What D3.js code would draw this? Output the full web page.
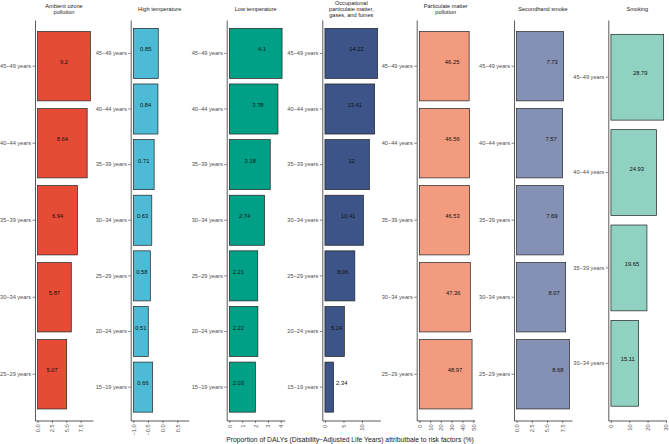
<!DOCTYPE html>
<html>
<head>
<meta charset="utf-8">
<script src="https://cdn.jsdelivr.net/npm/d3@7"></script>
<style>
  html, body { margin: 0; padding: 0; background: #fff; }
  svg { display: block; font-family: "Liberation Sans", Arial, sans-serif; }
</style>
</head>
<body>
<svg id="chart" width="669" height="444"></svg>
<script>
  // age groups, youngest first
  var ages = ['15\u221219 years', '20\u221224 years', '25\u221229 years', '30\u221234 years',
    '35\u221239 years', '40\u221244 years', '45\u221249 years'];

  var ozoneAges = ages.slice(2);
  var ozoneValues = [5.07, 5.87, 6.94, 8.64, 9.2];
  var ozoneTicks = [0, 2.5, 5, 7.5];

  var highAges = ages;
  var highValues = [0.66, 0.51, 0.58, 0.63, 0.71, 0.84, 0.85];
  var highTicks = [-1, -0.5, 0, 0.5];
  var highLimits = [-1, 0.8];
  var highBase = -1;

  var lowAges = ages;
  var lowValues = [2.03, 2.22, 2.21, 2.74, 3.18, 3.78, 4.1];
  var lowTicks = [0, 1, 2, 3, 4];

  var occAges = ages;
  var occValues = [2.34, 5.24, 8.06, 10.41, 12, 13.41, 14.22];
  var occTicks = [0, 5, 10];

  var pmAges = ages.slice(2);
  var pmValues = [48.97, 47.36, 46.53, 46.56, 46.25];
  var pmTicks = [0, 10, 20, 30, 40, 50];

  var shsAges = ages.slice(2);
  var shsValues = [8.68, 8.07, 7.69, 7.57, 7.73];
  var shsTicks = [0, 2.5, 5, 7.5];

  var smokeAges = ages.slice(3);
  var smokeValues = [15.11, 19.65, 24.93, 28.79];
  var smokeTicks = [0, 10, 20, 30];

  var xTitle = 'Proportion of DALYs (Disability\u2212Adjusted Life Years) attributbale to risk factors (%)';

  // label placement rules (pixel based)
  function atCenter(x0, x1) { return { x: (x0 + x1) / 2, anchor: 'middle' }; }
  function fromEnd(px) {
    return function (x0, x1) { return { x: Math.max(x1 - px, x0 + 9), anchor: 'middle' }; };
  }
  function atFrac(f) {
    return function (x0, x1) {
      if (x1 - x0 < 12) return { x: x1 + 2.5, anchor: 'start' };
      return { x: x0 + (x1 - x0) * f, anchor: 'middle' };
    };
  }

  var fmt1 = d3.format('.1f'),
    fmt0 = d3.format('d');

  var panels = [
    { title: ['Ambient ozone', 'pollution'], ages: ozoneAges, values: ozoneValues, ticks: ozoneTicks,
      limits: [0, d3.max(ozoneValues)], base: 0, color: '#E64B35', fmt: fmt1, label: atCenter },
    { title: ['High temperature'], ages: highAges, values: highValues, ticks: highTicks,
      limits: highLimits, base: highBase, color: '#4DBBD5', fmt: fmt1, label: atCenter },
    { title: ['Low temperature'], ages: lowAges, values: lowValues, ticks: lowTicks,
      limits: [0, d3.max(lowValues)], base: 0, color: '#00A087', fmt: fmt0, label: fromEnd(20) },
    { title: ['Occupational', 'particulate matter,', 'gases, and fumes'], ages: occAges, values: occValues, ticks: occTicks,
      limits: [0, d3.max(occValues)], base: 0, color: '#3C5488', fmt: fmt0, label: atFrac(0.6) },
    { title: ['Particulate matter', 'pollution'], ages: pmAges, values: pmValues, ticks: pmTicks,
      limits: [0, d3.max(pmValues)], base: 0, color: '#F39B7F', fmt: fmt0, label: fromEnd(17) },
    { title: ['Secondhand smoke'], ages: shsAges, values: shsValues, ticks: shsTicks,
      limits: [0, d3.max(shsValues)], base: 0, color: '#8491B4', fmt: fmt1, label: fromEnd(11.5) },
    { title: ['Smoking'], ages: smokeAges, values: smokeValues, ticks: smokeTicks,
      limits: [0, d3.max(smokeValues)], base: 0, color: '#91D1C2', fmt: fmt0,
      label: function (x0, x1) { return { x: (x0 + x1) / 2 + 3, anchor: 'middle' }; } }
  ];

  var svg = d3.select('#chart'),
    panelTop = 20,
    panelBottom = 420.5,
    panelW = 58,
    panelLefts = [35, 130.7, 226.7, 322.3, 416.7, 514, 608.3];

  function minus(s) { return String(s).replace('-', '\u2212'); }

  panels.forEach(function (p, i) {
    var g = svg.append('g').attr('transform', 'translate(' + panelLefts[i] + ',0)'),
      pad = (p.limits[1] - p.limits[0]) * 0.05;

    var x = d3.scaleLinear()
      .domain([p.limits[0] - pad, p.limits[1] + pad])
      .range([0, panelW]);

    var y = d3.scaleBand()
      .domain(p.ages.slice().reverse())
      .range([panelTop, panelBottom])
      .paddingInner(0.1)
      .paddingOuter(0.15);

    var rows = p.ages.map(function (a, k) { return { age: a, value: p.values[k] }; });

    g.selectAll('rect.bar').data(rows).enter().append('rect')
      .attr('class', 'bar')
      .attr('x', x(p.base))
      .attr('y', function (d) { return y(d.age); })
      .attr('width', function (d) { return x(p.base + d.value) - x(p.base); })
      .attr('height', y.bandwidth())
      .attr('fill', p.color)
      .attr('stroke', '#222')
      .attr('stroke-width', 0.7);

    g.selectAll('text.val').data(rows).enter().append('text')
      .attr('class', 'val')
      .each(function (d) {
        var pos = p.label(x(p.base), x(p.base + d.value));
        d3.select(this)
          .attr('x', pos.x)
          .attr('text-anchor', pos.anchor);
      })
      .attr('y', function (d) { return y(d.age) + y.bandwidth() / 2 - 1.9; })
      .attr('font-size', '5.8px')
      .attr('fill', '#111')
      .text(function (d) { return d.value; });

    var yAxis = g.append('g')
      .call(d3.axisLeft(y).tickSize(2.5).tickSizeOuter(0).tickPadding(1.5));

    var xAxis = g.append('g')
      .attr('transform', 'translate(0,' + panelBottom + ')')
      .call(d3.axisBottom(x).tickValues(p.ticks).tickSize(2.5).tickSizeOuter(0)
        .tickFormat(function (d) { return minus(p.fmt(d)); }));

    xAxis.selectAll('text')
      .attr('transform', 'rotate(-90)')
      .attr('x', -4)
      .attr('y', 0)
      .attr('dy', '0.35em')
      .style('text-anchor', 'end');

    [yAxis, xAxis].forEach(function (a) {
      a.select('.domain').attr('stroke', '#333').attr('stroke-width', 0.8);
      a.selectAll('.tick line').attr('stroke', '#333').attr('stroke-width', 0.6);
      a.selectAll('.tick text')
        .attr('fill', '#4d4d4d')
        .style('font-size', '5.6px')
        .style('font-family', '"Liberation Sans", Arial, sans-serif');
    });

    var t = g.append('text')
      .attr('x', panelW / 2)
      .attr('text-anchor', 'middle')
      .attr('font-size', '5.6px')
      .attr('fill', '#1a1a1a');

    t.selectAll('tspan').data(p.title).enter().append('tspan')
      .attr('x', panelW / 2)
      .attr('y', function (d, k) { return 8.7 + (k - (p.title.length - 1) / 2) * 6.1; })
      .attr('dy', '0.35em')
      .text(function (d) { return d; });
  });

  svg.append('text')
    .attr('x', 350)
    .attr('y', 441.5)
    .attr('text-anchor', 'middle')
    .attr('font-size', '6.8px')
    .attr('fill', '#1a1a1a')
    .text(xTitle);
</script>
</body>
</html>
